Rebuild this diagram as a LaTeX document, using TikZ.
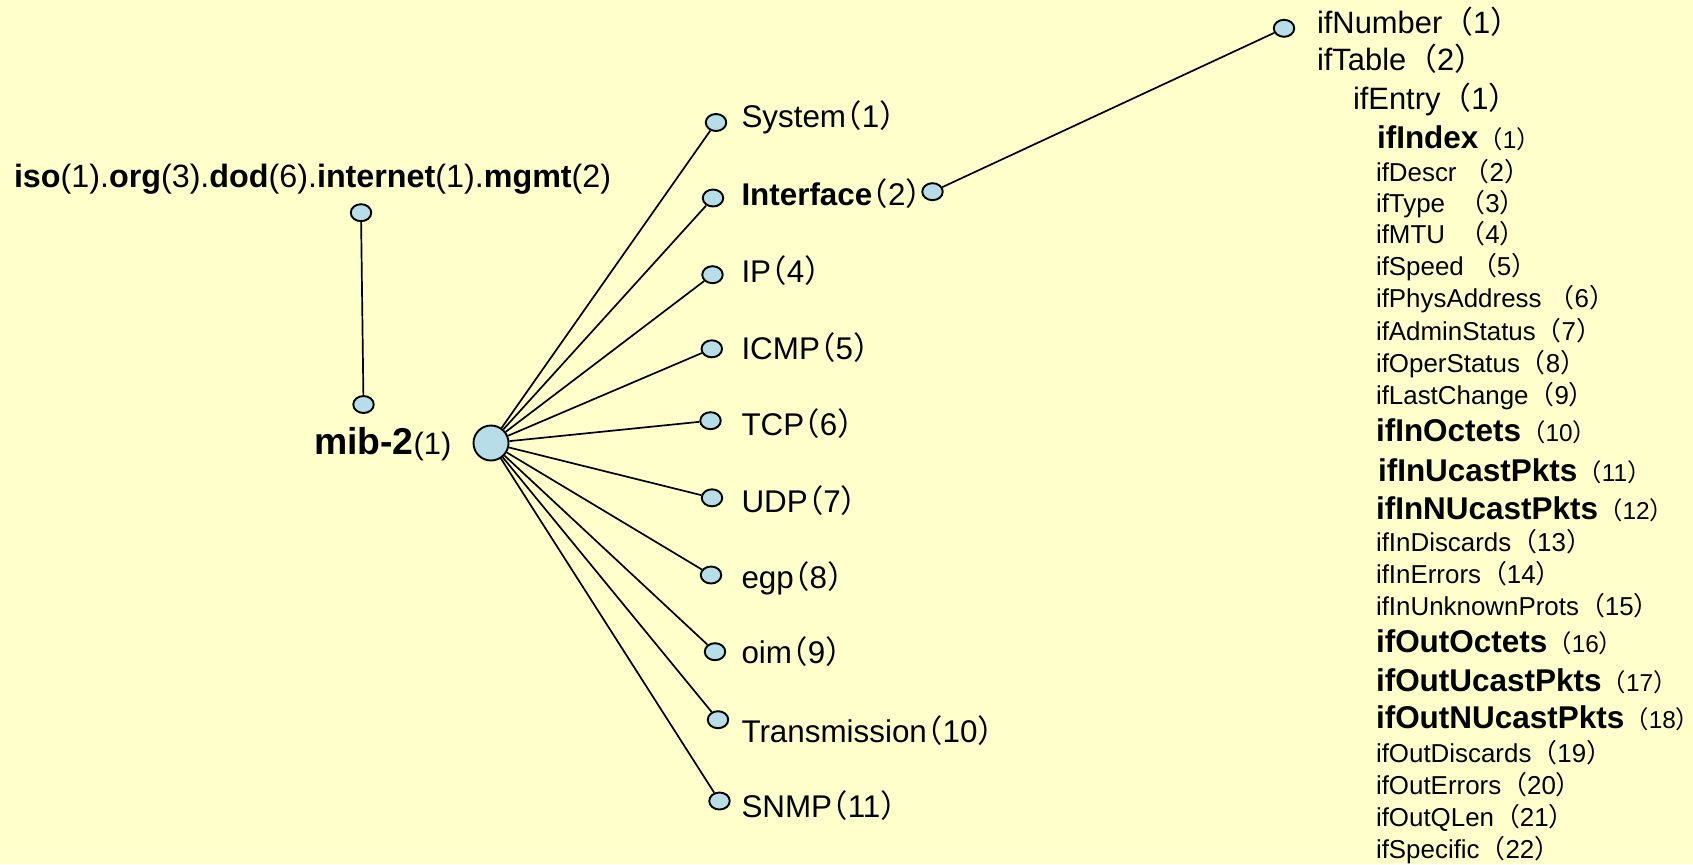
\documentclass[tikz,border=0pt]{standalone}
\usepackage{fontspec}
\setmainfont{Liberation Sans}
\newfontfamily\cjk{Noto Sans CJK SC}
\newfontfamily\cjkh[RawFeature=+halt]{Noto Sans CJK SC}
\usetikzlibrary{shapes.geometric}
\definecolor{bgyellow}{RGB}{255,255,204}
\definecolor{nodeblue}{RGB}{183,222,232}
\newcommand\fbig{\fontsize{31}{37}\selectfont}
\newcommand\fmid{\fontsize{31.5}{37}\selectfont}
\newcommand\fbold{\fontsize{31.6}{38}\selectfont}
\newcommand\ftop{\fontsize{32.4}{38}\selectfont}
\newcommand\fsmall{\fontsize{26}{31}\selectfont}
\newcommand\fnum{\fontsize{24.5}{30}\selectfont}
\newcommand\myLF{{\cjk （}}
\newcommand\myRF{{\cjkh ）}}
\newcommand\myLH{{\cjkh （}}
\newcommand\myRH{{\cjkh ）}}
\begin{document}
\begin{tikzpicture}[x=1bp,y=-1bp,
  dot/.style={ellipse,draw=black,fill=nodeblue,line width=1.9bp,minimum width=20.5bp,minimum height=17bp,inner sep=0},
  bigdot/.style={circle,draw=black,fill=nodeblue,line width=1.9bp,minimum size=35bp,inner sep=0},
  lbl/.style={anchor=base west,inner sep=0,outer sep=0},
  mid/.style={lbl,font=\fmid},
  big/.style={lbl,font=\fbig},
  bld/.style={lbl,font=\fbold},
  sml/.style={lbl,font=\fsmall},
  link/.style={line width=1.7bp,draw=black}]
\fill[bgyellow] (0,0) rectangle (1693,864);
\useasboundingbox (0,0) rectangle (1693,864);

% left part
\node[lbl,font=\ftop] (path) at (14,187) {\textbf{iso}(1).\textbf{org}(3).\textbf{dod}(6).\textbf{internet}(1).\textbf{mgmt}(2)};
\node[dot] (mgmtc) at (361,212.7) {};
\node[dot] (mibtop) at (363.5,404.5) {};
\node[lbl] (mibl) at (314,454) {\fontsize{37.5}{44}\selectfont\textbf{mib-2}\fontsize{31}{36}\selectfont(1)};
\node[bigdot] (mib) at (491,443) {};

% children of mib-2
\node[dot] (c1) at (716,122.5) {};
\node[dot] (c2) at (713,198) {};
\node[dot] (c3) at (712.5,274.7) {};
\node[dot] (c4) at (711.8,348.8) {};
\node[dot] (c5) at (710.5,420.7) {};
\node[dot] (c6) at (712,497.8) {};
\node[dot] (c7) at (711,575) {};
\node[dot] (c8) at (715,651.7) {};
\node[dot] (c9) at (718,719.7) {};
\node[dot] (c10) at (719.5,801) {};

\node[mid] (t1) at (741.5,127.3) {System\myLH 1\myRH};
\node[mid] (t2) at (741.5,205) {\textbf{Interface}\myLH 2\myRH};
\node[mid] (t3) at (741.5,282) {IP\myLH 4\myRH};
\node[mid] (t4) at (741.5,359) {ICMP\myLH 5\myRH};
\node[mid] (t5) at (741.5,435) {TCP\myLH 6\myRH};
\node[mid] (t6) at (741.5,512) {UDP\myLH 7\myRH};
\node[mid] (t7) at (741.5,588) {egp\myLH 8\myRH};
\node[mid] (t8) at (741.5,663) {oim\myLH 9\myRH};
\node[mid] (t9) at (741.5,742) {Transmission\myLH 10\myRH};
\node[mid] (t10) at (741.5,817) {SNMP\myLH 11\myRH};

\node[dot] (ifR) at (932.5,191.7) {};
\node[dot] (ifN) at (1284,28.3) {};

% interface subtree
\node[big] (r1) at (1317,33) {ifNumber\myLF 1\myRF};
\node[big] (r2) at (1317,70.5) {ifTable\myLF 2\myRF};
\node[big] (r3) at (1353,109.5) {ifEntry\myLF 1\myRF};
\node[bld] (r4) at (1377,148.5) {\textbf{ifIndex}\fnum\myLF 1\myRF};
\node[sml] (r5) at (1376,181) {ifDescr\ \myLF 2\myRF};
\node[sml] (r6) at (1376,212) {ifType\ \ \myLF 3\myRF};
\node[sml] (r7) at (1376,243) {ifMTU\ \ \myLF 4\myRF};
\node[sml] (r8) at (1376,275.5) {ifSpeed\ \myLF 5\myRF};
\node[sml] (r9) at (1376,307) {ifPhysAddress\ \myLF 6\myRF};
\node[sml] (r10) at (1376,340) {ifAdminStatus\myLF 7\myRF};
\node[sml] (r11) at (1376,372) {ifOperStatus\myLF 8\myRF};
\node[sml] (r12) at (1376,404) {ifLastChange\myLF 9\myRF};
\node[bld] (r13) at (1376,441) {\textbf{ifInOctets}\fnum\myLF 10\myRF};
\node[bld] (r14) at (1378,481) {\textbf{ifInUcastPkts}\fnum\myLF 11\myRF};
\node[bld] (r15) at (1376,519) {\textbf{ifInNUcastPkts}\fnum\myLF 12\myRF};
\node[sml] (r16) at (1376,551) {ifInDiscards\myLF 13\myRF};
\node[sml] (r17) at (1376,583) {ifInErrors\myLF 14\myRF};
\node[sml] (r18) at (1376,615.5) {ifInUnknownProts\myLF 15\myRF};
\node[bld] (r19) at (1376,652) {\textbf{ifOutOctets}\fnum\myLF 16\myRF};
\node[bld] (r20) at (1376,691) {\textbf{ifOutUcastPkts}\fnum\myLF 17\myRF};
\node[bld] (r21) at (1376,728.5) {\textbf{ifOutNUcastPkts}\fnum\myLF 18\myRF};
\node[sml] (r22) at (1376,762) {ifOutDiscards\myLF 19\myRF};
\node[sml] (r23) at (1376,794) {ifOutErrors\myLF 20\myRF};
\node[sml] (r24) at (1376,826.5) {ifOutQLen\myLF 21\myRF};
\node[sml] (r25) at (1376,858) {ifSpecific\myLF 22\myRF};

% connectors
\draw[link] (mgmtc) -- (mibtop);
\foreach \c in {c1,c2,c3,c4,c5,c6,c7,c8,c9,c10}{
  \draw[link] (mib) -- (\c);
}
\draw[link] (ifR) -- (ifN);
\end{tikzpicture}
\end{document}
